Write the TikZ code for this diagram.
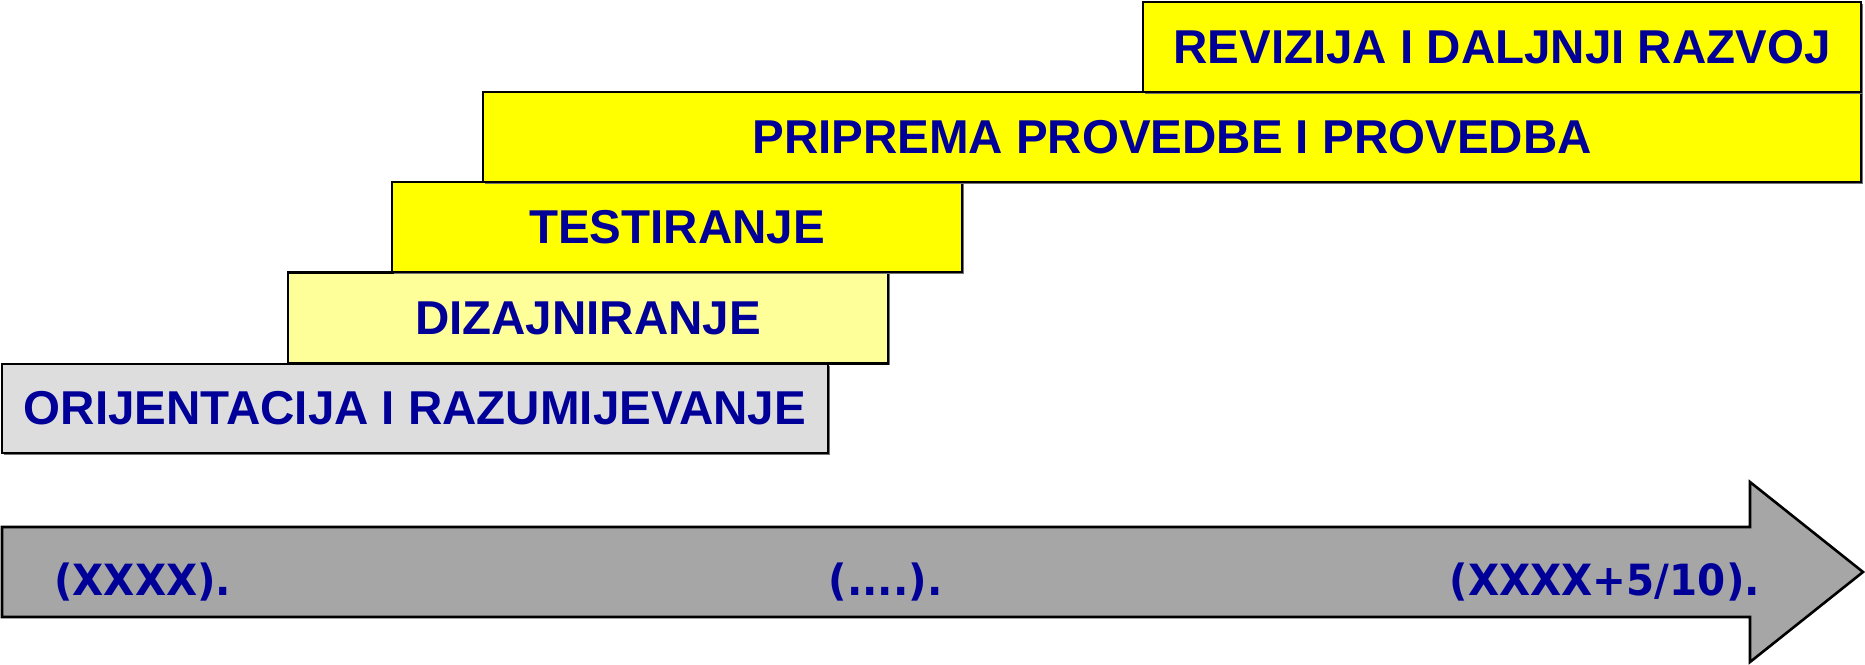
\documentclass[tikz,border=0pt]{standalone}
\usepackage{fontspec}
\usepackage{graphicx}
\setmainfont{Liberation Sans}
\newfontfamily\verd{DejaVu Sans}
\usetikzlibrary{shadows}
\definecolor{txtblue}{RGB}{0,0,153}
\definecolor{boxgray}{RGB}{221,221,221}
\definecolor{paleyellow}{RGB}{255,255,153}
\definecolor{brightyellow}{RGB}{255,255,0}
\definecolor{arrowgray}{RGB}{166,166,166}
\newcommand{\yl}[1]{\scalebox{0.94}[1]{#1}}
\tikzset{
  phase/.style={draw=black, line width=2.8pt, inner sep=0pt, anchor=center,
    text=txtblue, font=\fontsize{47.5pt}{50pt}\selectfont\bfseries,
    drop shadow={shadow xshift=1.5pt, shadow yshift=-1.5pt, fill=black!55, opacity=1}},
  yearlabel/.style={inner sep=0pt, text=txtblue, font=\verd\fontsize{43pt}{46pt}\selectfont\bfseries}
}
\begin{document}
\begin{tikzpicture}[x=1pt,y=-1pt]
\useasboundingbox (0,0) rectangle (1865,664);
% time arrow
\draw[line width=2.6pt, fill=arrowgray, line join=miter]
  (2,527) -- (1750,527) -- (1750,482) -- (1863,572) -- (1750,662) -- (1750,617) -- (2,617) -- cycle;
\node[yearlabel, anchor=base west] (y0) at (54,595) {\yl{(XXXX).}};
\node[yearlabel, anchor=base] (y1) at (885.5,595) {\yl{(....).}};
\node[yearlabel, anchor=base east] (y2) at (1760,595) {\yl{(XXXX+5/10).}};
% phases
\node[phase, fill=boxgray, minimum width=826pt, minimum height=89pt] (p1) at (415,408.5) {ORIJENTACIJA I RAZUMIJEVANJE};
\node[phase, fill=paleyellow, minimum width=600pt, minimum height=91pt] (p2) at (588,318) {DIZAJNIRANJE};
\node[phase, fill=brightyellow, minimum width=570pt, minimum height=90pt] (p3) at (677,227) {TESTIRANJE};
\node[phase, fill=brightyellow, minimum width=1378pt, minimum height=90pt] (p4) at (1172,137) {PRIPREMA PROVEDBE I PROVEDBA};
\node[phase, fill=brightyellow, minimum width=718pt, minimum height=90pt] (p5) at (1502,47) {REVIZIJA I DALJNJI RAZVOJ};
\end{tikzpicture}
\end{document}
